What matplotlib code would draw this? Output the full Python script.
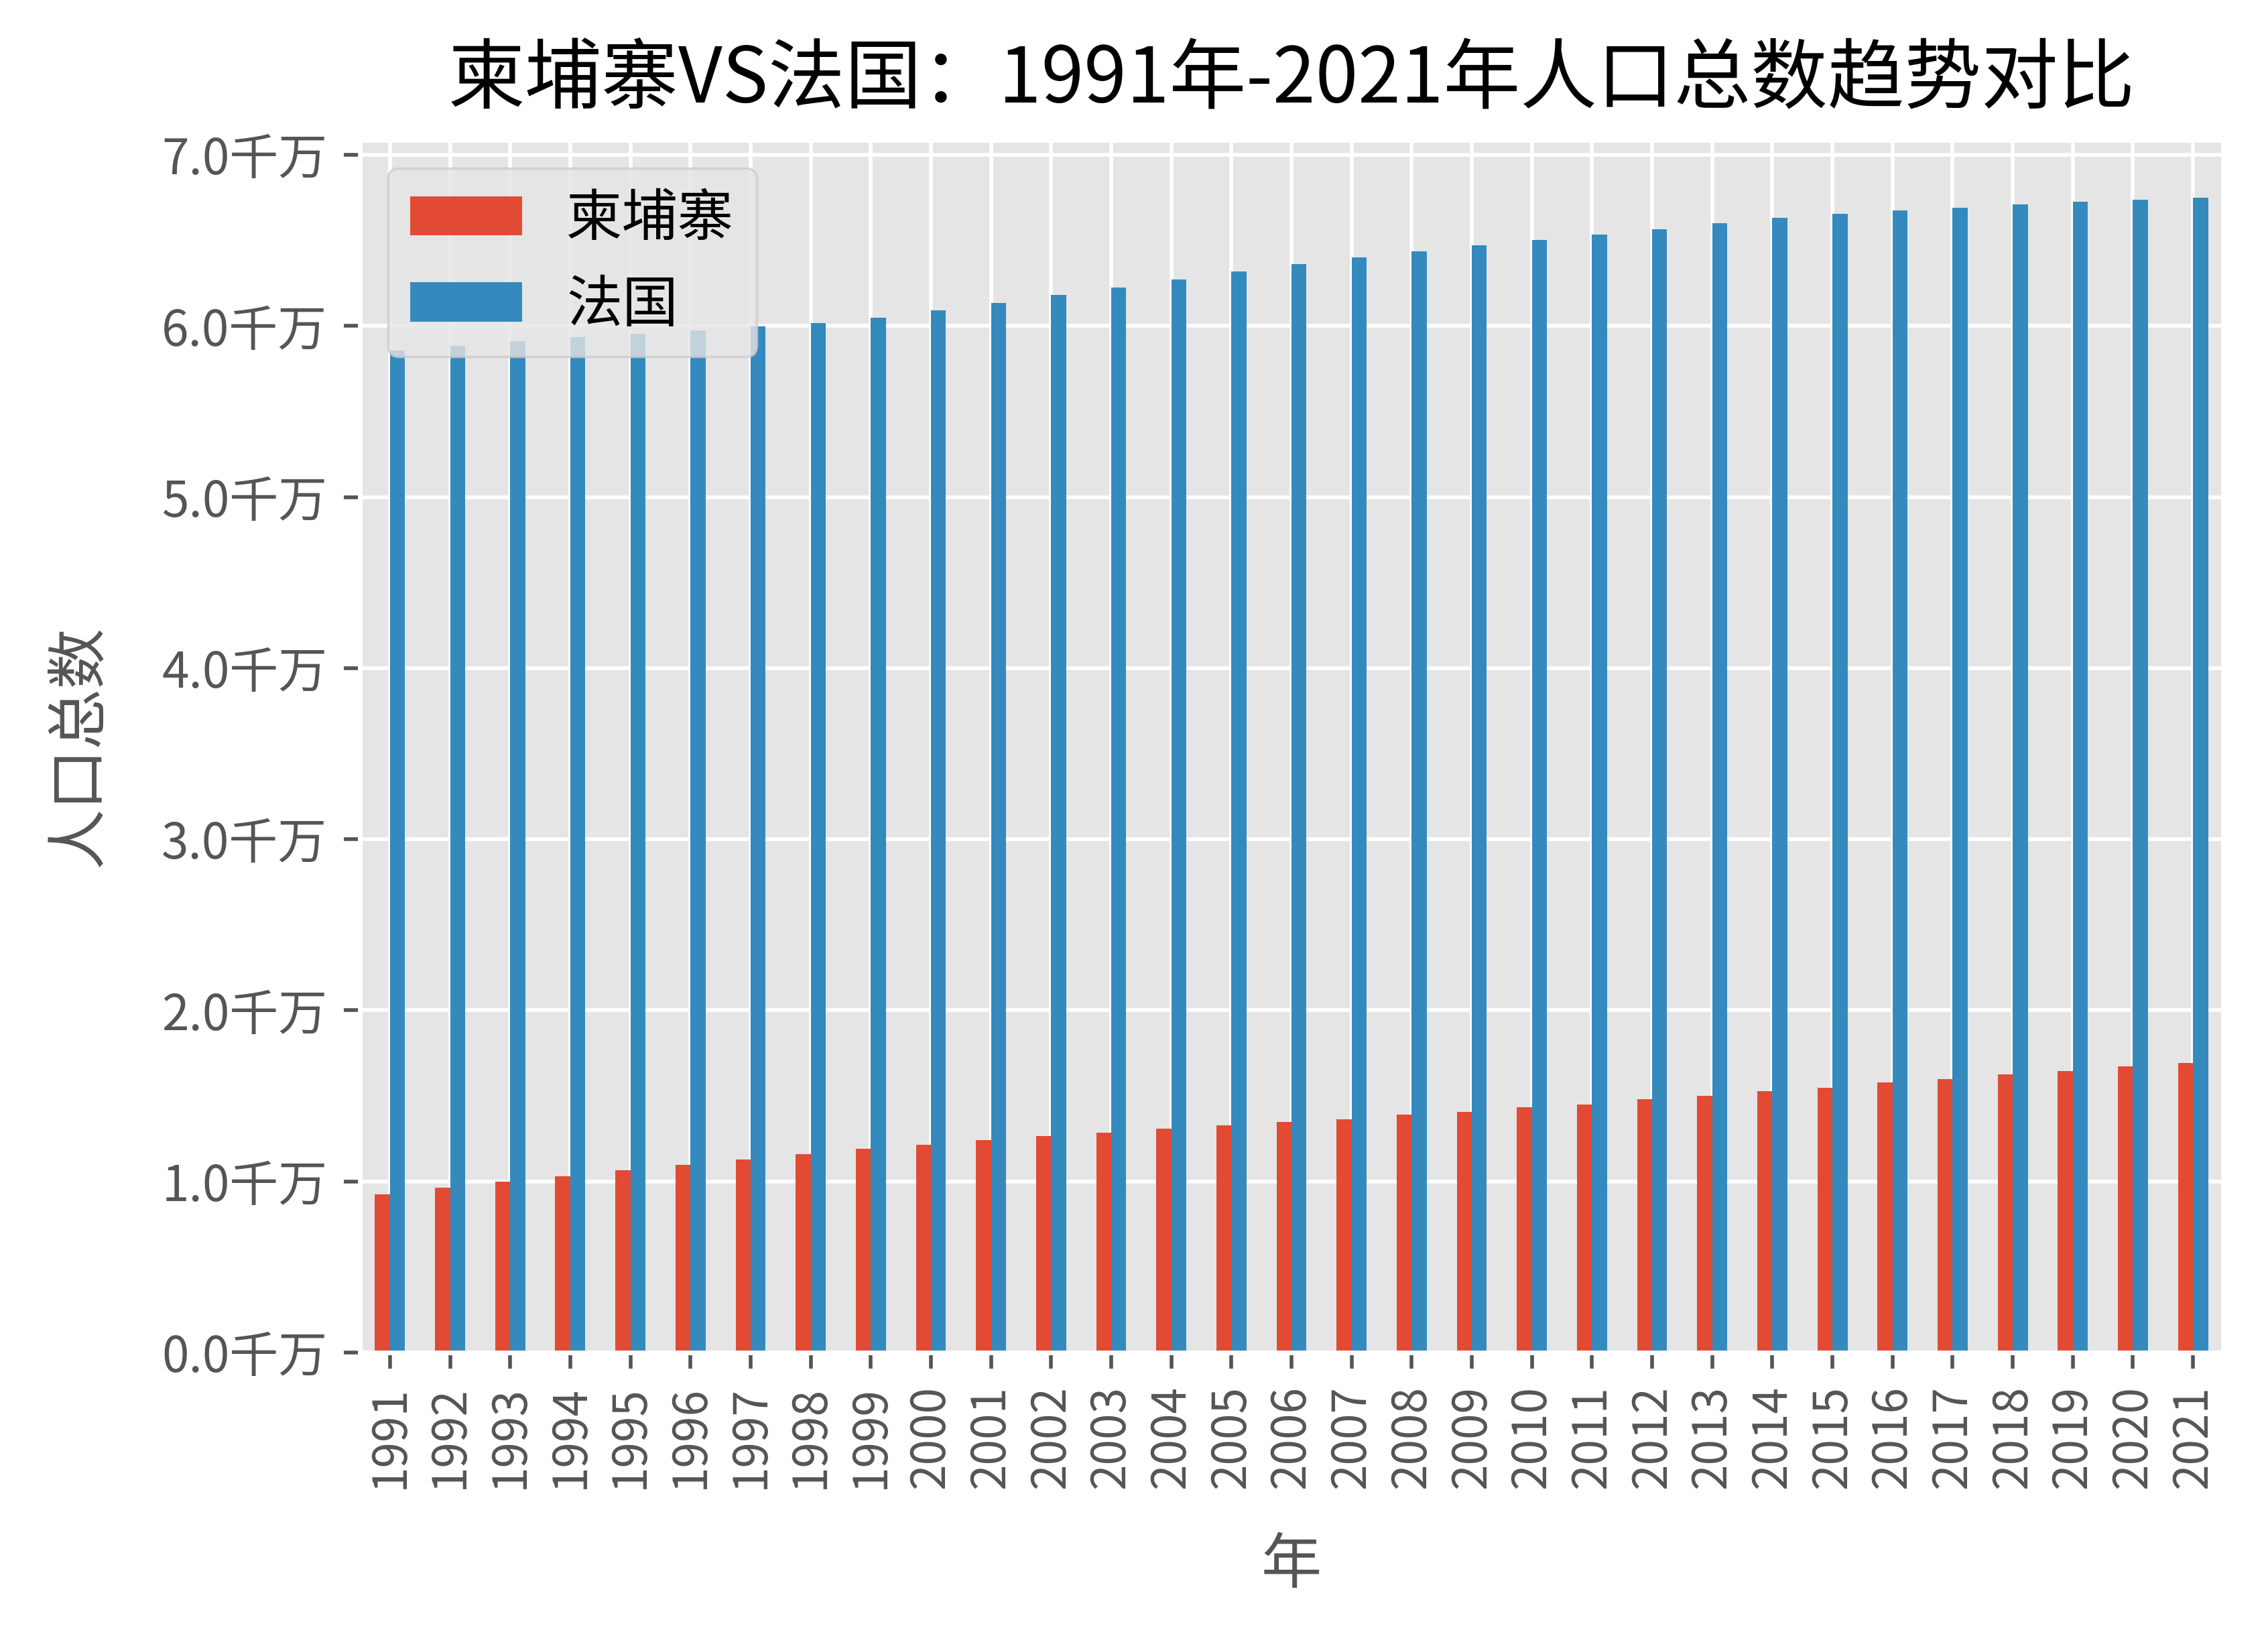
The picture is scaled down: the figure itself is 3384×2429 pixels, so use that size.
import pandas as pd
import matplotlib
matplotlib.use('Agg')
import matplotlib.pyplot as plt
from matplotlib import ticker

plt.style.use('ggplot')
plt.rcParams['font.family'] = ['Noto Sans CJK SC', 'DejaVu Sans']
plt.rcParams['axes.unicode_minus'] = False

years = list(range(1991, 2022))
cambodia = [9.26, 9.62, 9.97, 10.29, 10.64, 10.96, 11.27, 11.58, 11.90, 12.13,
            12.40, 12.64, 12.83, 13.07, 13.26, 13.46, 13.65, 13.89, 14.08, 14.32,
            14.51, 14.79, 15.02, 15.26, 15.49, 15.77, 16.00, 16.24, 16.47, 16.71,
            16.94]
france = [58.56, 58.85, 59.11, 59.33, 59.54, 59.75, 59.97, 60.18, 60.48, 60.91,
          61.36, 61.81, 62.24, 62.71, 63.18, 63.62, 64.01, 64.36, 64.71, 65.03,
          65.34, 65.65, 65.99, 66.31, 66.56, 66.73, 66.90, 67.10, 67.25, 67.37,
          67.49]

df = pd.DataFrame({'柬埔寨': [v * 1e6 for v in cambodia],
                   '法国': [v * 1e6 for v in france]}, index=years)

fig = plt.figure(figsize=(3384 / 500, 2429 / 500), dpi=500)
ax = fig.add_axes([0.1587, 0.1692, 0.8215, 0.7448])
df.plot(kind='bar', ax=ax)

ax.yaxis.set_major_formatter(ticker.FuncFormatter(lambda x, p: '%.1f千万' % (x / 1e7)))
ax.set_title('柬埔寨VS法国：1991年-2021年人口总数趋势对比', fontsize=16.5, color='black', pad=8)
ax.set_xlabel('年', fontsize=13, labelpad=10)
ax.set_ylabel('人口总数', fontsize=13, labelpad=11)
ax.tick_params(axis='y', labelsize=10.5)
ax.tick_params(axis='x', labelsize=10)
plt.xticks(rotation=90)
ax.legend(loc='upper left', fontsize=12)

fig.savefig('out.png', dpi=500)
